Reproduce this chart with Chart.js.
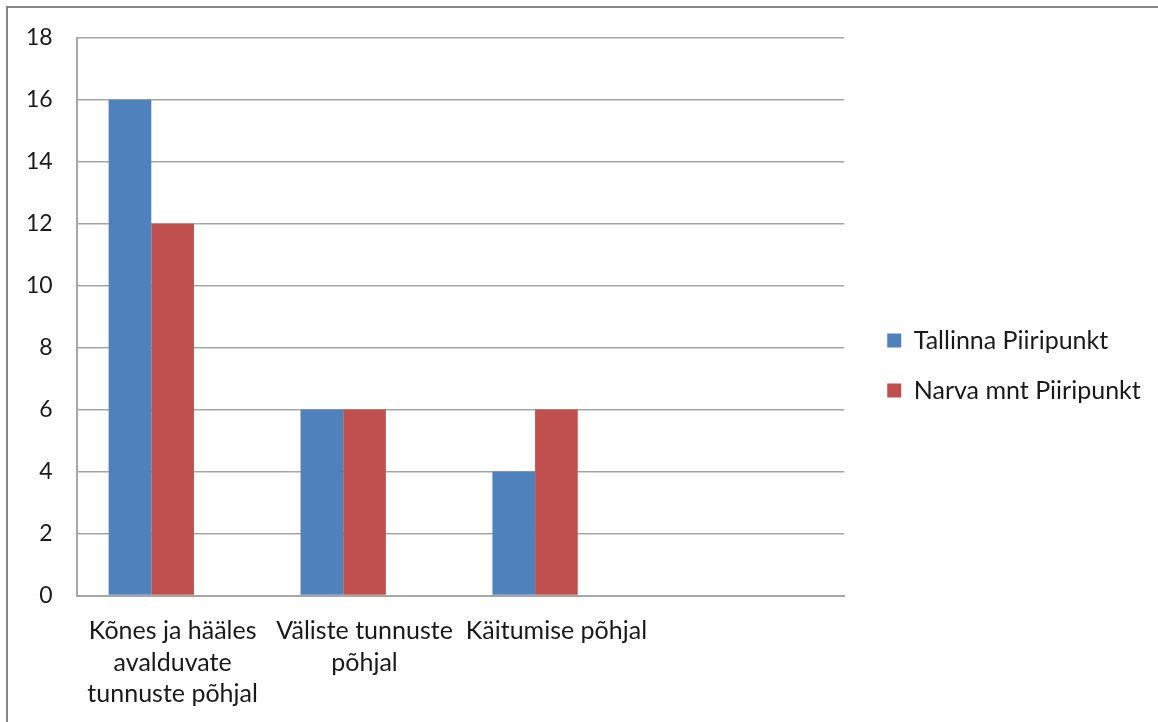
<!DOCTYPE html>
<html>
<head>
<meta charset="utf-8">
<script src="https://cdn.jsdelivr.net/npm/chart.js@4/dist/chart.umd.min.js"></script>
<style>
  html, body { margin: 0; padding: 0; background: #fff; }
  #wrap { position: relative; width: 1158px; height: 722px; overflow: hidden; }
  #frame { position: absolute; left: 6px; top: 6px; width: 1200px; height: 800px;
           border-top: 2px solid #878787; border-left: 2px solid #878787; box-sizing: border-box; }
  canvas { position: absolute; left: 0; top: 0; }
</style>
</head>
<body>
<div id="wrap">
  <div id="frame"></div>
  <canvas id="c" width="1158" height="722"></canvas>
</div>
<script>
const categories = [
  ['Kõnes ja hääles', 'avalduvate', 'tunnuste põhjal'],
  ['Väliste tunnuste', 'põhjal'],
  'Käitumise põhjal',
  ''
];
const tallinnValues = [16, 6, 4, null];
const narvaValues = [12, 6, 6, null];
const emptySeries = [null, null, null, null];
const yTicks = [0, 2, 4, 6, 8, 10, 12, 14, 16, 18];

const FONT = 'Lato, "Open Sans", sans-serif';

// Nudge the right-hand legend: wider gap beside the plot than between rows,
// and sit the two rows slightly above the vertical middle.
const legendShift = {
  id: 'legendShift',
  afterLayout(chart) {
    const lg = chart.legend;
    if (lg) {
      lg.left += 18; lg.right += 18;
      lg.top -= 13; lg.bottom -= 13;
    }
  }
};

new Chart(document.getElementById('c'), {
  type: 'bar',
  data: {
    labels: categories,
    datasets: [
      { label: 'Tallinna Piiripunkt', data: tallinnValues, backgroundColor: '#4f81bd' },
      { label: 'Narva mnt Piiripunkt', data: narvaValues, backgroundColor: '#c0504d' },
      { label: '', data: emptySeries, backgroundColor: 'rgba(0,0,0,0)' }
    ]
  },
  plugins: [legendShift],
  options: {
    responsive: false,
    animation: false,
    devicePixelRatio: 1,
    layout: { padding: { left: 2, right: 33, top: 27, bottom: -8 } },
    datasets: { bar: { categoryPercentage: 0.667, barPercentage: 1.0 } },
    plugins: {
      tooltip: { enabled: false },
      legend: {
        position: 'right',
        labels: {
          font: { family: FONT, size: 25 },
          color: '#1a1a1a',
          boxWidth: 14,
          boxHeight: 14,
          padding: 25,
          filter: (item) => item.text !== ''
        }
      }
    },
    scales: {
      x: {
        grid: { display: false, drawTicks: false },
        border: { display: true, color: '#a6a6a6', width: 2 },
        ticks: {
          font: { family: FONT, size: 25, lineHeight: 1.26 },
          color: '#1a1a1a',
          maxRotation: 0,
          autoSkip: false,
          padding: 20
        }
      },
      y: {
        min: 0,
        max: 18,
        afterBuildTicks: (axis) => { axis.ticks = yTicks.map(v => ({ value: v })); },
        grid: { color: '#a6a6a6', lineWidth: 1.5, drawTicks: false },
        border: { display: true, color: '#a6a6a6', width: 2 },
        ticks: {
          font: { family: FONT, size: 23 },
          color: '#1a1a1a',
          padding: 24
        }
      }
    }
  }
});
</script>
</body>
</html>
